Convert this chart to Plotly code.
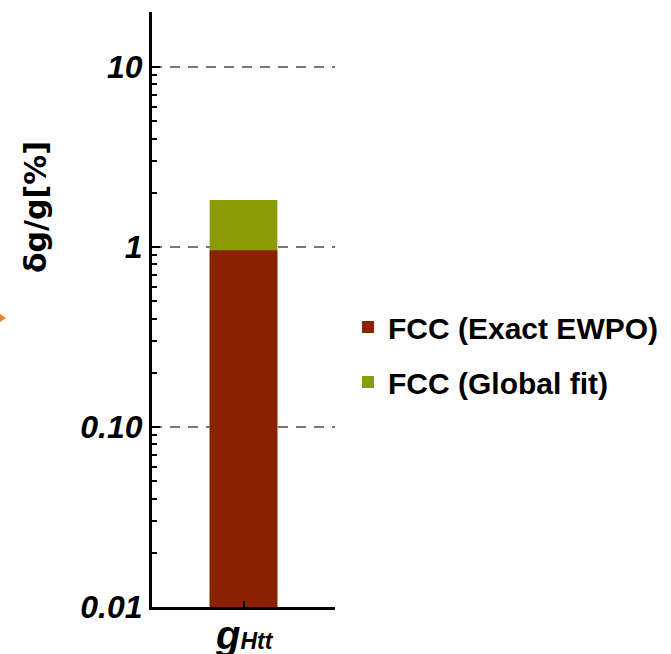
import plotly.graph_objects as go

# Coupling category and fractional precision (in %)
categories = ["gHtt"]
category_label = "<b><i>g<span style='font-size:23px'>Htt</span></i></b>"
exact_ewpo = [0.96]
global_fit = [1.82]

# Log-axis ticks
major_vals = [0.01, 0.1, 1, 10]
major_text = ["0.01", "0.10", "1", "10"]
minor_vals = [m * d for d in (0.01, 0.1, 1, 10) for m in range(2, 10)]

RED = "#8a2202"
OLIVE = "#8c9a04"
FONT = "Liberation Sans"

fig = go.Figure()
fig.add_trace(go.Bar(
    x=categories, y=global_fit, name="FCC (Global fit)",
    marker=dict(color=OLIVE, line=dict(width=0)), width=0.37,
    legendrank=2, legendgroup="b",
))
fig.add_trace(go.Bar(
    x=categories, y=exact_ewpo, name="FCC (Exact EWPO)",
    marker=dict(color=RED, line=dict(width=0)), width=0.37,
    legendrank=1, legendgroup="a",
))

fig.update_layout(
    width=671, height=654,
    margin=dict(l=152, r=0, t=12, b=47),
    paper_bgcolor="white", plot_bgcolor="white",
    barmode="overlay",
    showlegend=True,
    legend=dict(
        x=(348 - 152) / 519, y=(654 - 47 - 301) / 595, xanchor="left", yanchor="top",
        font=dict(family=FONT, size=30, color="black", weight="bold"),
        tracegroupgap=13, bgcolor="rgba(0,0,0,0)",
    ),
    xaxis=dict(
        domain=[0, 183 / 519], range=[-0.5, 0.5], automargin=False,
        tickvals=categories, ticktext=[""],
        ticks="inside", ticklen=6, tickwidth=2, tickcolor="black",
        showline=True, linecolor="black", linewidth=3,
        showgrid=False, zeroline=False,
    ),
    yaxis=dict(
        type="log", range=[-2, 1.305], automargin=False,
        tickvals=major_vals, ticktext=major_text,
        ticks="inside", ticklen=8, tickwidth=2, tickcolor="black",
        showline=True, linecolor="black", linewidth=3,
        showgrid=True, gridcolor="#777777", gridwidth=1.5, griddash="10px,8px",
        zeroline=False,
        tickfont=dict(family=FONT, size=32, color="black", weight="bold", style="italic"),
        minor=dict(tickvals=minor_vals, ticks="inside", ticklen=5, tickwidth=1.5,
                   tickcolor="black", showgrid=False),
    ),
)

# Category label below the bar
fig.add_annotation(
    text=category_label, xref="x", yref="paper",
    x=categories[0], y=0, xanchor="center", yanchor="top", yshift=-4, xshift=1,
    showarrow=False, font=dict(family=FONT, size=40, color="black"),
)

# Rotated y-axis title
fig.add_annotation(
    text="<b>δg/g[%]</b>", textangle=-90,
    xref="paper", yref="paper",
    x=-(152 - 36) / 519, y=(654 - 47 - 207) / 595,
    xanchor="center", yanchor="middle", showarrow=False,
    font=dict(family="DejaVu Sans", size=30, color="black"),
)

# Small orange pointer at the left edge
fig.add_shape(
    type="path", xref="paper", yref="paper",
    path="M %f %f L %f %f L %f %f Z" % (
        -152 / 519, (654 - 47 - 314) / 595,
        -146 / 519, (654 - 47 - 318) / 595,
        -152 / 519, (654 - 47 - 322) / 595),
    fillcolor="#e8822a", line=dict(width=0),
)

fig.write_html("out.html")
